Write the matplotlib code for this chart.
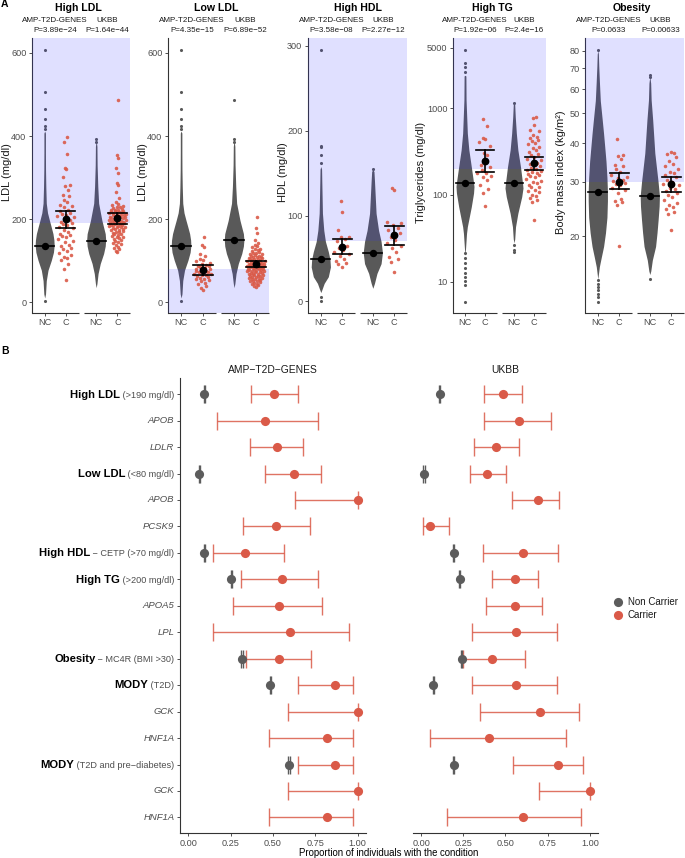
import numpy as np
import matplotlib
matplotlib.use("Agg")
import matplotlib.pyplot as plt
from matplotlib.lines import Line2D

plt.rcParams['font.family'] = ['Liberation Sans', 'DejaVu Sans']

W, H = 685, 858
fig = plt.figure(figsize=(W / 100, H / 100), dpi=100)

GREY_TXT = '#4d4d4d'
AX_COL = '#333333'
VIOLIN = '#595959'
RED = '#da5a48'
NC_COL = '#5c5c5c'

# ======================= Panel A data =======================
panel_titles = ["High LDL", "Low LDL", "High HDL", "High TG", "Obesity"]
cohorts = ["AMP-T2D-GENES", "UKBB"]
pvalues = [["P=3.89e\u221224", "P=1.64e\u221244"],
           ["P=4.35e\u221215", "P=6.89e\u221252"],
           ["P=3.58e\u221208", "P=2.27e\u221212"],
           ["P=1.92e\u221206", "P=2.4e\u221216"],
           ["P=0.0633", "P=0.00633"]]
ylabels = ["LDL (mg/dl)", "LDL (mg/dl)", "HDL (mg/dl)", "Triglycerides (mg/dl)",
           "Body mass index (kg/m\u00b2)"]
yticks = [[0, 200, 400, 600], [0, 200, 400, 600], [0, 100, 200, 300],
          [10, 100, 1000, 5000], [20, 30, 40, 50, 60, 70, 80]]
xcats = ["NC", "C"]
thresholds = [190, 80, 70, 200, 30]
threshold_side = ["above", "below", "above", "above", "above"]

# non-carrier violin profiles (value, relative width)
ldl_amp_nc_y = [10, 20, 52, 77, 101, 120, 137, 150, 165, 180, 197, 215, 238, 278, 318, 360, 407, 412]
ldl_amp_nc_w = [0.0, 0.09, 0.17, 0.35, 0.7, 0.92, 1.0, 0.97, 0.87, 0.7, 0.5, 0.3, 0.17, 0.12, 0.09, 0.08, 0.08, 0.0]
ldl_amp_nc_dots = [608, 506, 465, 442, 425, 416, 2]
ldl_ukbb_nc_y = [35, 45, 69, 93, 117, 135, 150, 165, 197, 238, 278, 330, 375, 390]
ldl_ukbb_nc_w = [0.0, 0.08, 0.2, 0.43, 0.78, 0.95, 1.0, 0.95, 0.6, 0.26, 0.17, 0.1, 0.08, 0.0]
highldl_ukbb_nc_dots = [393, 386]
lowldl_ukbb_nc_dots = [487, 393, 386]
hdl_amp_nc_y = [10, 13, 20.8, 28.6, 40, 49, 58, 70, 83, 103, 142, 155, 158]
hdl_amp_nc_w = [0.0, 0.1, 0.35, 0.78, 1.0, 0.95, 0.78, 0.48, 0.31, 0.17, 0.1, 0.08, 0.0]
hdl_amp_nc_dots = [295, 182.5, 180.6, 171.5, 161.8, 5, 0.4]
hdl_ukbb_nc_y = [15, 20.8, 32.5, 44, 57, 70, 83, 103, 142, 152, 155]
hdl_ukbb_nc_w = [0.0, 0.17, 0.43, 0.86, 1.0, 0.86, 0.6, 0.34, 0.17, 0.12, 0.0]
hdl_ukbb_nc_dots = [155]
tg_amp_nc_y = [20, 25, 36, 43, 73, 105, 125, 139, 212, 330, 515, 1247, 2356, 2400]
tg_amp_nc_w = [0.0, 0.07, 0.17, 0.26, 0.7, 0.95, 1.0, 0.95, 0.7, 0.43, 0.26, 0.12, 0.1, 0.0]
tg_amp_nc_dots = [4710, 3357, 3020, 2643, 21.3, 18.6, 16.3, 14.3, 12.5, 11.4, 10.2, 9.2, 5.9]
tg_ukbb_nc_y = [28, 31, 43, 61.5, 95.6, 120, 136, 212, 330, 515, 800, 1100, 1143]
tg_ukbb_nc_w = [0.0, 0.08, 0.17, 0.43, 0.86, 1.0, 0.95, 0.72, 0.43, 0.26, 0.14, 0.08, 0.0]
tg_ukbb_nc_dots = [1143, 26.5, 23, 22]
bmi_amp_nc_y = [14.5, 15.9, 17, 18.5, 20.5, 23, 26, 28, 31, 35, 39, 43, 48, 55, 63, 71, 78, 80]
bmi_amp_nc_w = [0.0, 0.16, 0.35, 0.6, 0.8, 0.95, 1.0, 1.0, 0.95, 0.85, 0.72, 0.6, 0.45, 0.26, 0.17, 0.1, 0.06, 0.0]
bmi_amp_nc_dots = [80.4, 14.4, 14.0, 13.7, 13.4, 13.0, 12.7, 12.2]
bmi_ukbb_nc_y = [15.0, 15.4, 16.7, 18.5, 20.5, 22.5, 25, 27, 30, 37.2, 47.6, 55.3, 62.7, 66]
bmi_ukbb_nc_w = [0.0, 0.1, 0.26, 0.6, 0.75, 0.86, 0.97, 1.0, 0.86, 0.52, 0.3, 0.14, 0.09, 0.0]
bmi_ukbb_nc_dots = [66.7, 65.5, 14.5]

# carriers (individual values)
highldl_amp_c = [397, 386, 356, 322, 320, 302, 283, 279, 270, 259, 255, 246, 242, 233, 231, 229, 223, 219,
                 215, 213, 209, 207, 204, 200, 197, 193, 190, 189, 185, 181, 178, 175, 169, 165, 161, 160,
                 157, 151, 148, 145, 137, 135, 131, 129, 123, 118, 113, 110, 107, 102, 93, 81, 54]
highldl_ukbb_c = [486, 354, 348, 322, 310, 286, 282, 266, 250, 241, 236, 233, 231, 229, 228, 226, 225, 223,
                  222, 221, 220, 219, 218, 217, 216, 215, 214, 214, 213, 212, 211, 210, 209, 208, 207, 206,
                  205, 205, 204, 203, 202, 201, 200, 199, 198, 197, 196, 195, 194, 193, 192, 191, 190, 189,
                  188, 187, 186, 185, 184, 183, 182, 181, 180, 178, 177, 176, 174, 173, 171, 170, 168, 166,
                  165, 163, 161, 159, 158, 156, 154, 152, 150, 148, 146, 143, 140, 137, 134, 131, 127, 124, 121]
lowldl_amp_c = [157, 137, 133, 117, 112, 104, 101, 98, 95, 92, 90, 88, 86, 84, 82, 80, 79, 78, 76, 75, 73,
                72, 70, 68, 67, 66, 65, 63, 61, 59, 57, 55, 53, 50, 47, 44, 40, 35, 30]
lowldl_ukbb_c = [205, 178, 167, 149, 142, 138, 135, 132, 129, 127, 125, 123, 121, 119, 118, 116, 115, 114,
                 112, 111, 110, 109, 108, 107, 106, 105, 104, 103, 102, 101, 100, 99, 98, 98, 97, 96, 95, 95,
                 94, 93, 92, 92, 91, 90, 89, 89, 88, 87, 86, 86, 85, 84, 83, 83, 82, 81, 80, 80, 79, 78, 77,
                 76, 75, 75, 74, 73, 72, 71, 70, 69, 68, 67, 66, 65, 64, 63, 62, 61, 60, 59, 58, 57, 56, 55,
                 54, 52, 51, 50, 48, 47, 45, 43, 41, 39, 37]
hdl_amp_c = [117.5, 105, 84, 75.6, 75, 73, 71, 65, 62, 60, 58, 55, 53, 49, 47, 45, 43, 39.6]
hdl_ukbb_c = [132.4, 130.4, 93.2, 91.3, 89, 86, 83.4, 80, 75.6, 72, 68, 64.6, 62, 58, 52, 50, 46.2, 34.4]
tg_amp_c = [753, 631, 451, 440, 412, 367, 302, 290, 222, 210, 195, 181, 178, 166, 160, 149, 130, 116, 105, 75]
tg_ukbb_c = [800, 770, 641, 560, 540, 492, 470, 450, 430, 420, 400, 390, 360, 350, 330, 310, 300, 290,
             275, 260, 253, 240, 235, 225, 215, 205, 200, 195, 190, 185, 178, 175, 170, 165, 160, 152,
             145, 140, 138, 130, 125, 122, 115, 110, 108, 100, 96, 92, 88, 84, 51.5]
bmi_amp_c = [41.2, 36.6, 36.3, 35.5, 34.0, 33.8, 33.0, 32.3, 31.6, 31.2, 30.9, 30.5, 30.1, 29.8, 29.5,
             29.2, 28.7, 28.2, 27.5, 26.4, 26.0, 25.7, 25.3, 18.5]
bmi_ukbb_c = [37.6, 37.2, 36.8, 36.0, 35.0, 34.2, 33.8, 33.0, 32.4, 32.0, 31.5, 31.2, 30.5, 30.0, 29.6,
              29.2, 28.6, 28.4, 28.0, 27.6, 27.2, 26.8, 26.2, 25.6, 25.2, 24.8, 24.4, 24.0, 23.6, 20.9]

nc_means = [[135, 147], [135, 149], [49.4, 57], [139, 136], [27.8, 27.0]]
c_means = [[200, 203], [78, 91], [63.8, 77.6], [249, 232], [30.0, 29.5]]
c_lo = [[179, 189], [66, 85], [55.2, 65.8], [186, 194], [28.4, 27.9]]
c_hi = [[219, 215], [89, 98], [72.9, 88.5], [330, 272], [32.0, 31.0]]

# ======================= Panel B data =======================
b_main = ["High LDL", None, None, "Low LDL", None, None, "High HDL", "High TG", None, None,
          "Obesity", "MODY", None, None, "MODY", None, None]
b_sub = [" (>190 mg/dl)", "APOB", "LDLR", " (<80 mg/dl)", "APOB", "PCSK9", " \u2212 CETP (>70 mg/dl)",
         " (>200 mg/dl)", "APOA5", "LPL", " \u2212 MC4R (BMI >30)", " (T2D)", "GCK", "HNF1A",
         " (T2D and pre\u2212diabetes)", "GCK", "HNF1A"]
nan = np.nan
amp_nc = [0.093, nan, nan, 0.065, nan, nan, 0.093, 0.253, nan, nan, 0.316, 0.485, nan, nan, 0.594, nan, nan]
amp_c = [0.507, 0.454, 0.523, 0.627, 1.0, 0.517, 0.334, 0.553, 0.535, 0.602, 0.537, 0.866, 1.0, 0.819, 0.866, 1.0, 0.819]
amp_lo = [0.369, 0.168, 0.365, 0.45, 0.631, 0.32, 0.144, 0.312, 0.264, 0.146, 0.34, 0.647, 0.59, 0.479, 0.647, 0.59, 0.479]
amp_hi = [0.645, 0.769, 0.677, 0.785, 1.0, 0.716, 0.568, 0.769, 0.789, 0.949, 0.726, 0.971, 1.0, 0.976, 0.971, 1.0, 0.976]
ukbb_nc = [0.110, nan, nan, 0.016, nan, nan, 0.192, 0.229, nan, nan, 0.241, 0.073, nan, nan, 0.192, nan, nan]
ukbb_c = [0.484, 0.580, 0.441, 0.392, 0.690, 0.051, 0.602, 0.559, 0.555, 0.565, 0.422, 0.565, 0.702, 0.402, 0.814, 1.0, 0.602]
ukbb_lo = [0.375, 0.375, 0.312, 0.292, 0.541, 0.012, 0.365, 0.418, 0.386, 0.300, 0.249, 0.300, 0.349, 0.055, 0.545, 0.696, 0.151]
ukbb_hi = [0.596, 0.769, 0.578, 0.502, 0.816, 0.167, 0.812, 0.692, 0.716, 0.804, 0.614, 0.804, 0.933, 0.857, 0.961, 1.0, 0.949]
b_xticks = [0.0, 0.25, 0.5, 0.75, 1.0]
b_xticklabels = ["0.00", "0.25", "0.50", "0.75", "1.00"]
legend_labels = ["Non Carrier", "Carrier"]

# ======================= helpers =======================
def add_ax_px(l, t, r, b):
    return fig.add_axes([l / W, 1 - b / H, (r - l) / W, (b - t) / H])


def fig_text(xpx, ypx, s, **kw):
    return fig.text(xpx / W, 1 - ypx / H, s, **kw)


def vdc(n, base=2):
    q, denom = 0.0, 1.0
    while n:
        denom *= base
        n, r = divmod(n, base)
        q += r / denom
    return q


def swarm_offsets(ax, vals, maxw_units):
    vals = np.asarray(vals, float)
    py = ax.transData.transform(np.column_stack([np.ones_like(vals), vals]))[:, 1]
    h = 6.0
    dens = np.array([np.exp(-0.5 * ((py - p) / h) ** 2).sum() for p in py])
    dens = dens / dens.max()
    order = np.argsort(py)
    offs = np.zeros_like(vals)
    for rank, i in enumerate(order):
        q = vdc(rank + 1)
        offs[i] = (2 * q - 1) * maxw_units * dens[i] ** 0.7
    return offs


# ======================= Panel A =======================
AT, AB = 38, 313
GAP = 5
panel_x = [(32, 130), (168, 269), (308, 407), (453, 546), (585, 684)]
ylims = [(-26, 636), (-26, 636), (-14, 309), (4.35, 6460), (11.25, 87.9)]
logs = [False, False, False, True, True]
ylabel_x = [7, 143, 283, 421, 561]
title_dx = [-3, -2, 0, -7, -3]

profiles = [
    [(ldl_amp_nc_y, ldl_amp_nc_w, ldl_amp_nc_dots), (ldl_ukbb_nc_y, ldl_ukbb_nc_w, highldl_ukbb_nc_dots)],
    [(ldl_amp_nc_y, ldl_amp_nc_w, ldl_amp_nc_dots), (ldl_ukbb_nc_y, ldl_ukbb_nc_w, lowldl_ukbb_nc_dots)],
    [(hdl_amp_nc_y, hdl_amp_nc_w, hdl_amp_nc_dots), (hdl_ukbb_nc_y, hdl_ukbb_nc_w, hdl_ukbb_nc_dots)],
    [(tg_amp_nc_y, tg_amp_nc_w, tg_amp_nc_dots), (tg_ukbb_nc_y, tg_ukbb_nc_w, tg_ukbb_nc_dots)],
    [(bmi_amp_nc_y, bmi_amp_nc_w, bmi_amp_nc_dots), (bmi_ukbb_nc_y, bmi_ukbb_nc_w, bmi_ukbb_nc_dots)],
]
carriers = [[highldl_amp_c, highldl_ukbb_c], [lowldl_amp_c, lowldl_ukbb_c], [hdl_amp_c, hdl_ukbb_c],
            [tg_amp_c, tg_ukbb_c], [bmi_amp_c, bmi_ukbb_c]]

for p in range(5):
    l, r = panel_x[p]
    ax = add_ax_px(l, AT, r, AB)
    wp = r - l
    fw = (wp - GAP) / 2.0
    upx = 2.2 / fw
    g = GAP * upx
    ax.set_xlim(0.4, 4.8 + g)
    if logs[p]:
        ax.set_yscale('log')
    ax.set_ylim(*ylims[p])
    ax.set_yticks(yticks[p])
    ax.set_yticklabels([str(t) for t in yticks[p]])
    ax.yaxis.set_minor_locator(matplotlib.ticker.NullLocator())
    ax.tick_params(axis='y', length=2.5, width=0.6, color=AX_COL, labelsize=6.6,
                   labelcolor=GREY_TXT, pad=1.5)
    pos = [[1.0, 2.0], [3.2 + g, 4.2 + g]]
    ax.set_xticks([pos[0][0], pos[0][1], pos[1][0], pos[1][1]])
    ax.set_xticklabels(xcats * 2)
    ax.tick_params(axis='x', length=2.0, width=0.6, color=AX_COL, labelsize=6.6,
                   labelcolor=GREY_TXT, pad=1.5)
    for s in ['top', 'right', 'bottom']:
        ax.spines[s].set_visible(False)
    ax.spines['left'].set_color(AX_COL)
    ax.spines['left'].set_linewidth(0.8)
    xt = ax.get_xaxis_transform()
    ax.plot([0.4, 2.6], [0, 0], transform=xt, color=AX_COL, lw=0.8, clip_on=False,
            solid_capstyle='butt')
    ax.plot([2.6 + g, 4.8 + g], [0, 0], transform=xt, color=AX_COL, lw=0.8, clip_on=False,
            solid_capstyle='butt')
    fig_text(ylabel_x[p], 172, ylabels[p], rotation=90, ha='center', va='center',
             fontsize=8, color='#1a1a1a')

    # shaded condition region
    y0, y1 = ylims[p]
    if threshold_side[p] == 'above':
        ax.axhspan(thresholds[p], y1, color=(0.2, 0.2, 1.0), alpha=0.15, lw=0, zorder=3)
    else:
        ax.axhspan(y0, thresholds[p], color=(0.2, 0.2, 1.0), alpha=0.15, lw=0, zorder=3)

    for f in range(2):
        xnc, xc = pos[f]
        ys, ws, dots = profiles[p][f]
        ys = np.asarray(ys, float)
        ws = np.asarray(ws, float)
        ax.fill_betweenx(ys, xnc - 0.45 * ws, xnc + 0.45 * ws, color=VIOLIN, lw=0, zorder=2)
        ax.scatter(np.full(len(dots), xnc), dots, s=5, color=VIOLIN, lw=0, zorder=2)
        vals = np.asarray(carriers[p][f], float)
        offs = swarm_offsets(ax, vals, 0.43)
        ax.scatter(xc + offs, vals, s=6.5, color=RED, alpha=0.9, lw=0, zorder=4)
        # non-carrier summary
        ax.plot([xnc - 0.45, xnc + 0.45], [nc_means[p][f]] * 2, color='black', lw=1.2, zorder=5)
        ax.plot([xnc], [nc_means[p][f]], 'o', ms=4.3, color='black', zorder=6)
        # carrier summary
        lo, hi, m = c_lo[p][f], c_hi[p][f], c_means[p][f]
        ax.plot([xc - 0.45, xc + 0.45], [lo, lo], color='black', lw=1.2, zorder=5)
        ax.plot([xc - 0.45, xc + 0.45], [hi, hi], color='black', lw=1.2, zorder=5)
        ax.plot([xc, xc], [lo, hi], color='black', lw=1.2, zorder=5)
        ax.plot([xc], [m], 'o', ms=4.6, color='black', zorder=6)
        # facet strip text
        cx = l + fw / 2 + f * (fw + GAP)
        fig_text(cx, 21, cohorts[f], ha='center', va='center', fontsize=5.8, color='#1a1a1a')
        fig_text(cx, 31, pvalues[p][f], ha='center', va='center', fontsize=5.8, color='#1a1a1a')
    fig_text(l + wp / 2 + title_dx[p], 8, panel_titles[p], ha='center', va='center',
             fontsize=7.6, fontweight='bold', color='black')

fig_text(1, 4, "A", ha='left', va='center', fontsize=7.5, fontweight='bold')
fig_text(1, 351, "B", ha='left', va='center', fontsize=7.5, fontweight='bold')

# ======================= Panel B =======================
BT, BB = 378.3, 833.3
rows = np.arange(1, 18)
axes_b = [add_ax_px(180, BT, 366, BB), add_ax_px(412.7, BT, 598.3, BB)]
b_titles = ["AMP\u2212T2D\u2212GENES", "UKBB"]
b_data = [(amp_nc, amp_c, amp_lo, amp_hi), (ukbb_nc, ukbb_c, ukbb_lo, ukbb_hi)]
for k, ax in enumerate(axes_b):
    nc, c, lo, hi = [np.asarray(a, float) for a in b_data[k]]
    ax.set_xlim(-0.05, 1.05)
    ax.set_ylim(17.6, 0.4)
    ax.errorbar(c, rows, xerr=[c - lo, hi - c], fmt='none', ecolor=RED, elinewidth=1.0,
                capsize=6.5, capthick=1.0, alpha=0.85, zorder=2)
    msk = ~np.isnan(nc)
    ax.errorbar(nc[msk], rows[msk], xerr=0.004, fmt='none', ecolor=NC_COL, elinewidth=1.0,
                capsize=6.5, capthick=1.0, zorder=2)
    ax.plot(nc[msk], rows[msk], 'o', ms=6.6, color=NC_COL, mec='none', zorder=3)
    ax.plot(c, rows, 'o', ms=6.6, color=RED, mec='none', zorder=3)
    ax.set_xticks(b_xticks)
    ax.set_xticklabels(b_xticklabels)
    ax.tick_params(axis='x', length=2.5, width=0.6, color=AX_COL, labelsize=6.6,
                   labelcolor=GREY_TXT, pad=1.5)
    for s in ['top', 'right']:
        ax.spines[s].set_visible(False)
    ax.spines['bottom'].set_color(AX_COL)
    ax.spines['bottom'].set_linewidth(0.8)
    if k == 0:
        ax.spines['left'].set_color(AX_COL)
        ax.spines['left'].set_linewidth(0.8)
        ax.set_yticks(rows)
        ax.set_yticklabels([''] * 17)
        ax.tick_params(axis='y', length=2.5, width=0.6, color=AX_COL)
    else:
        ax.spines['left'].set_visible(False)
        ax.set_yticks([])
    bb = ax.get_position()
    fig.text((bb.x0 + bb.x1) / 2, 1 - 369.5 / H, b_titles[k], ha='center', va='center',
             fontsize=7.4, color='#1a1a1a')

axL = axes_b[0]
for i, row in enumerate(rows):
    if b_main[i] is None:
        axL.annotate(b_sub[i], xy=(0, row), xycoords=('axes fraction', 'data'),
                     xytext=(-4, 0), textcoords='offset points', ha='right', va='center',
                     fontsize=6.8, color=GREY_TXT, fontstyle='italic')
    else:
        sub = axL.annotate(b_sub[i], xy=(0, row), xycoords=('axes fraction', 'data'),
                           xytext=(-4, -2.4), textcoords='offset points', ha='right', va='baseline',
                           fontsize=6.6, color=GREY_TXT)
        axL.annotate(b_main[i], xy=(0, row), xycoords=(sub, 'data'),
                     xytext=(0, -2.4), textcoords='offset points', ha='right', va='baseline',
                     fontsize=8.1, fontweight='bold', color='black')

fig_text(389, 852.5, "Proportion of individuals with the condition", ha='center', va='center',
         fontsize=6.9, color='black')

for j, (col, lab) in enumerate(zip([NC_COL, RED], legend_labels)):
    ypx = 601.7 + j * 13.5
    fig.add_artist(Line2D([618 / W], [1 - ypx / H], transform=fig.transFigure, marker='o',
                          ms=6.6, color=col, mec='none', ls='none'))
    fig_text(628, ypx, lab, ha='left', va='center', fontsize=7, color='#1a1a1a')

fig.savefig("out.png", dpi=100)
